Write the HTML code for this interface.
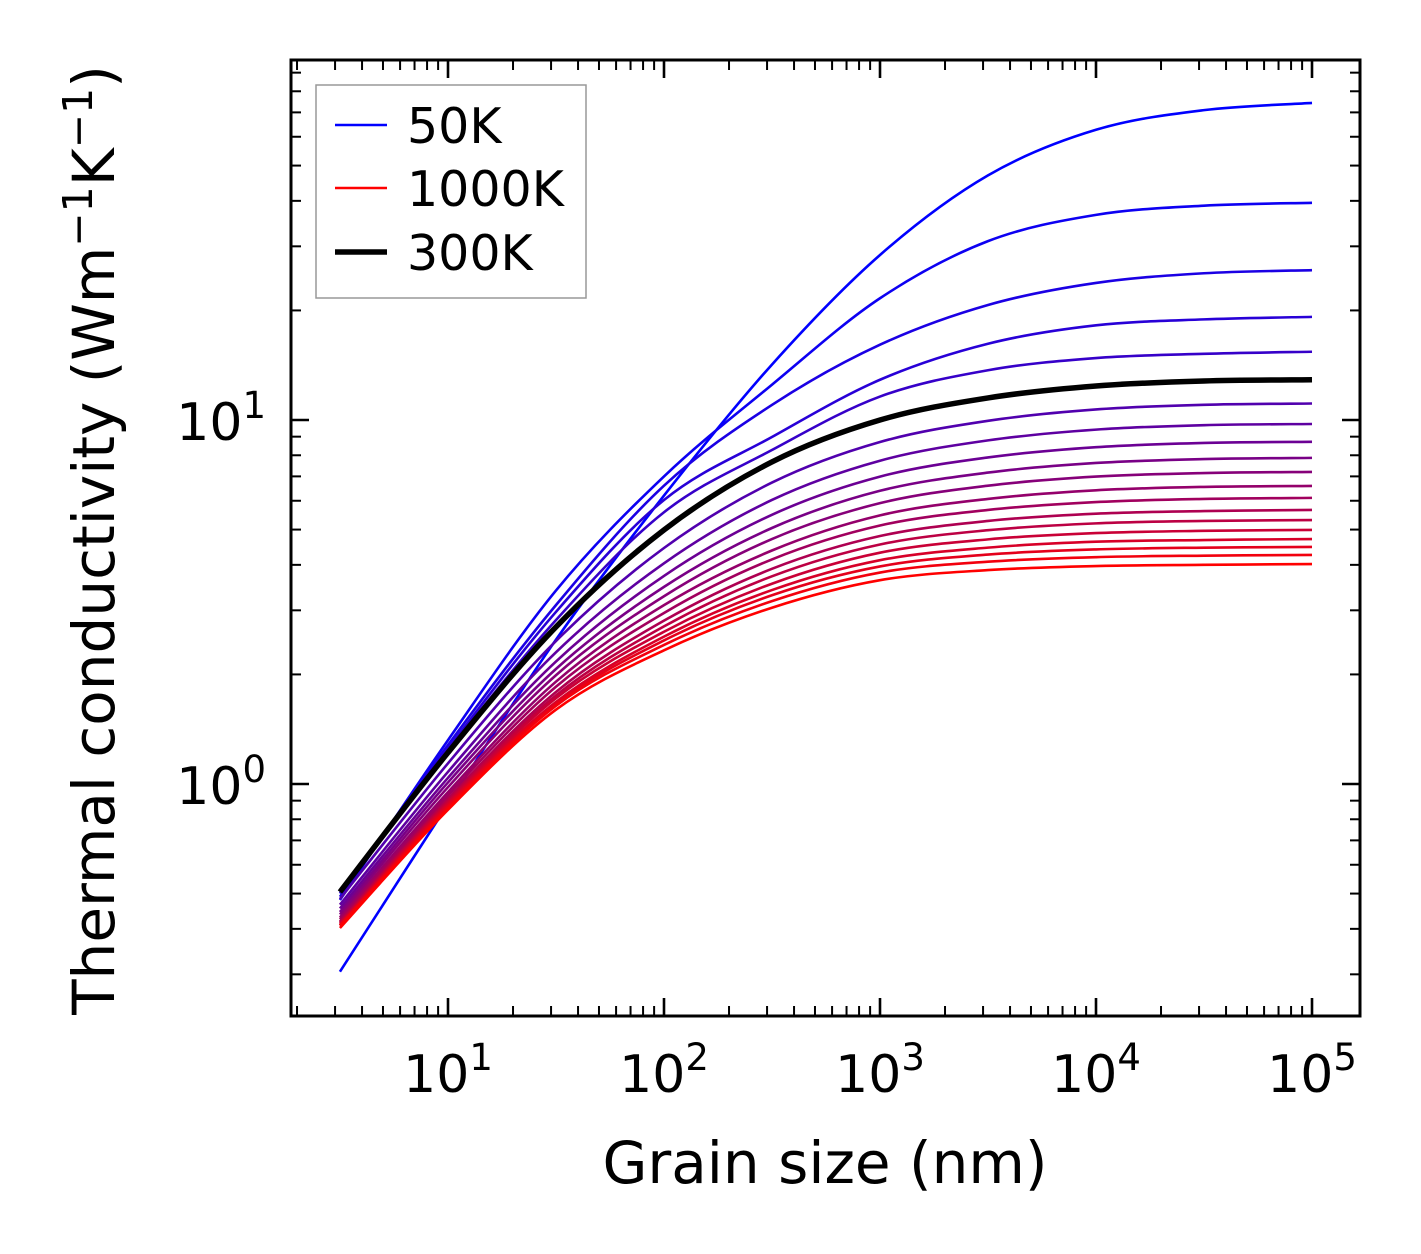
<!DOCTYPE html>
<html><head><meta charset="utf-8"><style>
html,body{margin:0;padding:0;background:#fff;}
svg{display:block;font-family:"DejaVu Sans","Liberation Sans",sans-serif;}
</style></head><body>
<svg id="chart" width="1421" height="1254" viewBox="0 0 1421 1254" xmlns="http://www.w3.org/2000/svg">
<rect width="1421" height="1254" fill="#fff"/>
<g id="curves"></g>
<g id="ticks"></g>
<rect x="291" y="60" width="1069" height="956" fill="none" stroke="#000" stroke-width="3"/>
<g id="labels"></g>
<text x="825" y="1183" font-size="58" text-anchor="middle">Grain size (nm)</text>
<text transform="translate(114,540) rotate(-90)" font-size="58" text-anchor="middle">Thermal conductivity (Wm<tspan dy="-22" font-size="41">−1</tspan><tspan dy="22">K</tspan><tspan dy="-22" font-size="41">−1</tspan><tspan dy="22">)</tspan></text>
<g>
<rect x="316" y="85" width="270" height="213" fill="#fff" stroke="#999" stroke-width="1.5"/>
<line x1="335" y1="125" x2="387" y2="125" stroke="#0000ff" stroke-width="2.5"/>
<text x="407" y="143" font-size="49">50K</text>
<line x1="335" y1="188" x2="387" y2="188" stroke="#ff0000" stroke-width="2.5"/>
<text x="407" y="206" font-size="49">1000K</text>
<line x1="335" y1="252" x2="387" y2="252" stroke="#000" stroke-width="5.5"/>
<text x="407" y="270" font-size="49">300K</text>
</g>
</svg>
<script>
const grainSizes = [3.16, 10, 31.6, 100, 316, 1000, 3162, 10000, 31623, 100000];
const temperatures = [50,100,150,200,250,300,350,400,450,500,550,600,650,700,750,800,850,900,950,1000];
const k50 = [0.305,0.88,2.49,6.2,14.2,28.4,47,62.7,71,74.3];
const k100 = [0.48,1.32,3.4,7.0,12.5,21.6,31.0,36.6,38.8,39.5];
const k150 = [0.49,1.28,3.1,6.6,11.0,16.1,20.7,23.8,25.3,25.8];
const k200 = [0.50,1.25,2.97,6.03,8.98,12.9,16.2,18.2,18.9,19.2];
const k250 = [0.505,1.23,2.82,5.58,8.27,11.6,13.7,14.8,15.2,15.4];
const k300 = [0.505,1.22,2.7,4.99,7.67,10.0,11.5,12.4,12.8,12.9];
const k350 = [0.483,1.14,2.47,4.45,6.73,8.70,9.95,10.69,11.01,11.1];
const k400 = [0.466,1.08,2.30,4.04,6.03,7.73,8.79,9.41,9.68,9.75];
const k450 = [0.455,1.04,2.17,3.73,5.49,6.99,7.89,8.42,8.65,8.71];
const k500 = [0.445,1.01,2.07,3.48,5.05,6.39,7.17,7.62,7.81,7.87];
const k550 = [0.438,0.98,1.99,3.28,4.71,5.91,6.60,6.99,7.15,7.20];
const k600 = [0.430,0.95,1.91,3.10,4.38,5.47,6.07,6.41,6.55,6.59];
const k650 = [0.425,0.93,1.85,2.95,4.14,5.13,5.66,5.95,6.07,6.11];
const k700 = [0.419,0.91,1.79,2.81,3.90,4.80,5.28,5.53,5.62,5.66];
const k750 = [0.416,0.90,1.75,2.71,3.72,4.55,4.98,5.20,5.28,5.31];
const k800 = [0.413,0.89,1.72,2.62,3.55,4.32,4.70,4.89,4.96,4.99];
const k850 = [0.410,0.88,1.68,2.54,3.41,4.12,4.46,4.63,4.68,4.71];
const k900 = [0.409,0.87,1.66,2.48,3.30,3.96,4.27,4.41,4.46,4.48];
const k950 = [0.408,0.86,1.64,2.41,3.18,3.81,4.08,4.20,4.24,4.26];
const k1000 = [0.402,0.85,1.60,2.33,3.05,3.63,3.87,3.97,4.00,4.02];
const xTickLabels = ["1","2","3","4","5"];
const yTickLabels = ["0","1"];

const series = [k50,k100,k150,k200,k250,k300,k350,k400,k450,k500,k550,k600,k650,k700,k750,k800,k850,k900,k950,k1000];
const NS = "http://www.w3.org/2000/svg";
const X0 = 291, X1 = 1360, Y0 = 60, Y1 = 1016;
const xLogMin = 1 - 157/216, xLogMax = 5 + 48/216;
const yLogMin = -232/364, yLogMax = 1 + 360/364;
function xs(v){ return X0 + (Math.log10(v) - xLogMin)/(xLogMax - xLogMin)*(X1 - X0); }
function ys(v){ return Y1 - (Math.log10(v) - yLogMin)/(yLogMax - yLogMin)*(Y1 - Y0); }

function pathFor(vals){
  const P = grainSizes.map((g,i)=>[xs(g), ys(vals[i])]);
  let d = "M" + P[0][0].toFixed(2) + "," + P[0][1].toFixed(2);
  for (let i=0;i<P.length-1;i++){
    const p0 = P[Math.max(0,i-1)], p1 = P[i], p2 = P[i+1], p3 = P[Math.min(P.length-1,i+2)];
    const c1 = [p1[0]+(p2[0]-p0[0])/6, p1[1]+(p2[1]-p0[1])/6];
    const c2 = [p2[0]-(p3[0]-p1[0])/6, p2[1]-(p3[1]-p1[1])/6];
    d += " C"+c1[0].toFixed(2)+","+c1[1].toFixed(2)+" "+c2[0].toFixed(2)+","+c2[1].toFixed(2)+" "+p2[0].toFixed(2)+","+p2[1].toFixed(2);
  }
  return d;
}
const cg = document.getElementById("curves");
const n = series.length;
series.forEach((vals,i)=>{
  if (temperatures[i] === 300) return;
  const t = i/(n-1);
  const p = document.createElementNS(NS,"path");
  p.setAttribute("d", pathFor(vals));
  p.setAttribute("fill","none");
  p.setAttribute("stroke","rgb("+Math.round(255*t)+",0,"+Math.round(255*(1-t))+")");
  p.setAttribute("stroke-width","2.6");
  
  
  cg.appendChild(p);
});
const bp = document.createElementNS(NS,"path");
bp.setAttribute("d", pathFor(k300));
bp.setAttribute("fill","none");
bp.setAttribute("stroke","#000");
bp.setAttribute("stroke-width","5.5");


cg.appendChild(bp);

const tg = document.getElementById("ticks");
function ln(x1,y1,x2,y2,w,name){
  const l = document.createElementNS(NS,"line");
  l.setAttribute("x1",x1); l.setAttribute("y1",y1); l.setAttribute("x2",x2); l.setAttribute("y2",y2);
  l.setAttribute("stroke","#000"); l.setAttribute("stroke-width",w);
  
  
  tg.appendChild(l);
}
for (let e=0;e<=5;e++){
  for (let m=1;m<=9;m++){
    const v = m*Math.pow(10,e);
    const x = xs(v);
    if (x < X0+1 || x > X1-1) continue;
    const L = m===1 ? 18 : 10, w = m===1 ? 2.6 : 2;
    ln(x,Y1,x,Y1-L,w,"x-tick"); ln(x,Y0,x,Y0+L,w,"x-tick-top");
  }
}
for (let e=-1;e<=1;e++){
  for (let m=1;m<=9;m++){
    const v = m*Math.pow(10,e);
    const y = ys(v);
    if (y < Y0+1 || y > Y1-1) continue;
    const L = m===1 ? 18 : 10, w = m===1 ? 2.6 : 2;
    ln(X0,y,X0+L,y,w,"y-tick"); ln(X1,y,X1-L,y,w,"y-tick-right");
  }
}
const lg = document.getElementById("labels");
xTickLabels.forEach(s=>{
  const x = xs(Math.pow(10, +s));
  const t = document.createElementNS(NS,"text");
  t.setAttribute("x", x); t.setAttribute("y", 1092);
  t.setAttribute("font-size","52"); t.setAttribute("text-anchor","middle");
  t.innerHTML = '10<tspan dy="-22" font-size="37">'+s+'</tspan>';
  
  
  lg.appendChild(t);
});
yTickLabels.forEach(s=>{
  const y = ys(Math.pow(10, +s));
  const t = document.createElementNS(NS,"text");
  t.setAttribute("x", 266); t.setAttribute("y", y+20);
  t.setAttribute("font-size","52"); t.setAttribute("text-anchor","end");
  t.innerHTML = '10<tspan dy="-22" font-size="37">'+s+'</tspan>';
  
  
  lg.appendChild(t);
});
</script>
</body></html>
